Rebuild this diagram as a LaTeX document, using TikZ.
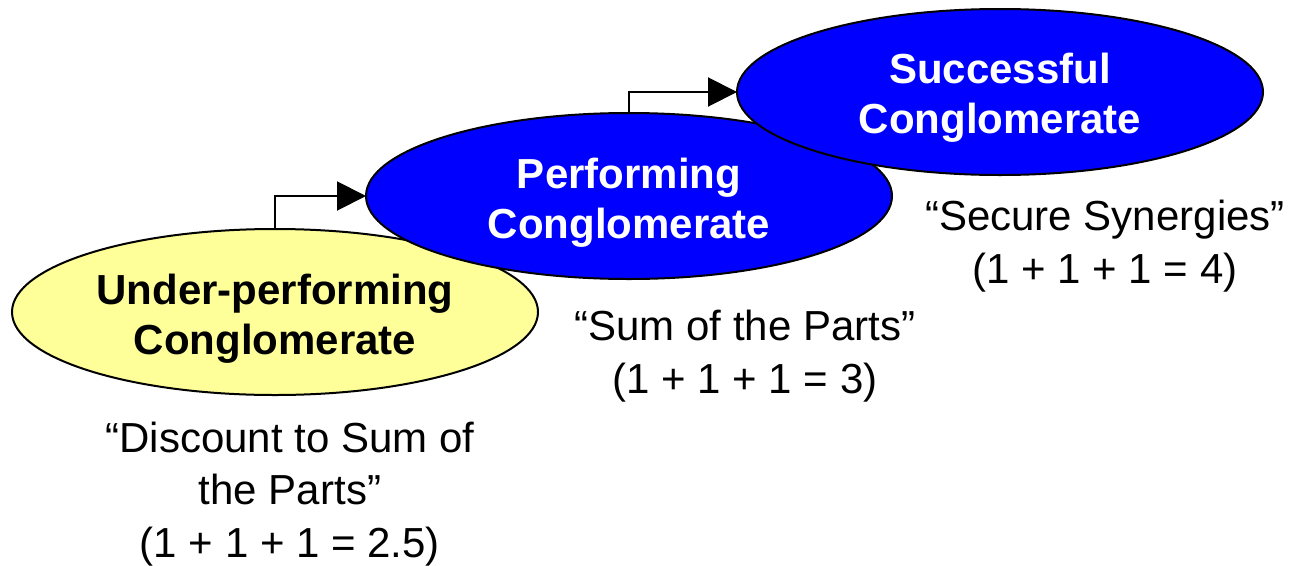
\documentclass[tikz,border=0pt]{standalone}
\usepackage{fontspec}
\setmainfont{Liberation Sans}
\usetikzlibrary{shapes.geometric,arrows.meta}
\definecolor{paleyellow}{HTML}{FFFF99}
\definecolor{pureblue}{HTML}{0000FF}
\tikzset{
  stage/.style={ellipse, draw=black, line width=2pt, minimum width=526pt, minimum height=166pt,
    inner sep=0pt, outer sep=0pt},
  lowstage/.style={stage, fill=paleyellow},
  highstage/.style={stage, fill=pureblue},
  stagetext/.style={align=center, inner sep=0pt, font=\fontsize{42}{50}\selectfont\bfseries},
  caption/.style={align=center, inner sep=0pt, font=\fontsize{42}{52.5}\selectfont},
  stepline/.style={line width=2pt, -{Triangle[length=29pt,width=29pt]}}
}
\begin{document}
\begin{tikzpicture}[x=1pt,y=-1pt]
\useasboundingbox (0,0) rectangle (1292,565);
\node[lowstage] (Y) at (275,312) {};
\node[highstage] (P) at (629,196) {};
\node[highstage] (S) at (1000,92) {};
\node[stagetext, text=black] (Yt) at ([yshift=-7pt]Y.center) {Under-performing\\Conglomerate};
\node[stagetext, text=white] (Pt) at ([yshift=-7pt]P.center) {Performing\\Conglomerate};
\node[stagetext, text=white] (St) at ([yshift=-6pt]S.center) {Successful\\Conglomerate};
\draw[stepline] (Y.north) |- (P.west);
\draw[stepline] (P.north) |- (S.west);
\node[caption] (cY) at (290,494) {“Discount to Sum of\\the Parts”\\(1 + 1 + 1 = 2.5)};
\node[caption] (cP) at (745,356) {“Sum of the Parts”\\(1 + 1 + 1 = 3)};
\node[caption] (cS) at (1105,246) {“Secure Synergies”\\(1 + 1 + 1 = 4)};
\end{tikzpicture}
\end{document}
